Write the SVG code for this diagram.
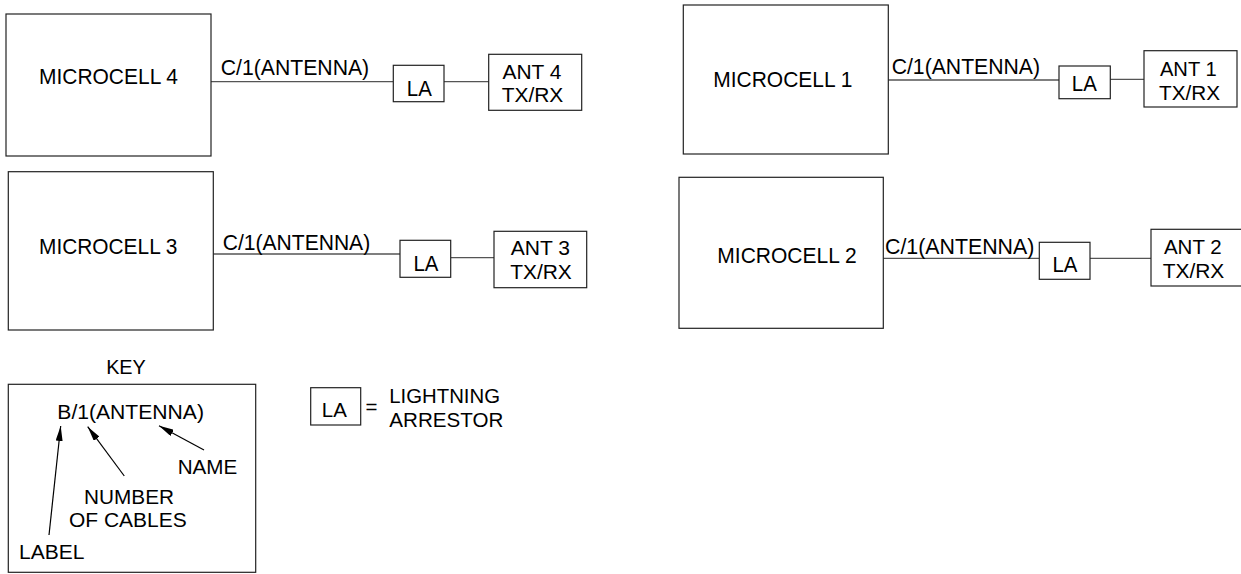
<svg xmlns="http://www.w3.org/2000/svg" width="1241" height="574" viewBox="0 0 1241 574">
<style>
.box{fill:#fff;stroke:#222;stroke-width:1.2}
.wire{stroke:#555;stroke-width:1.3;fill:none}
.t{font-family:"Liberation Sans",Arial,sans-serif;font-size:22px;fill:#000}
.a{font-size:20.5px}
.k{font-family:"Liberation Sans",Arial,sans-serif;font-size:20.5px;fill:#000}
.m{text-anchor:middle}
.ptr{stroke:#000;stroke-width:1.2;fill:none}
</style>
<defs>
<marker id="ah" markerUnits="userSpaceOnUse" markerWidth="15" markerHeight="7" refX="15" refY="3.5" orient="auto">
<path d="M0,0 L15,3.5 L0,7 z" fill="#000"/>
</marker>
</defs>
<rect width="1241" height="574" fill="#fff"/>
<g id="connectors">
<line class="wire" x1="211" y1="81.7" x2="393" y2="81.7"/>
<line class="wire" x1="444" y1="81.7" x2="489" y2="81.7"/>
<line class="wire" x1="213" y1="254" x2="405" y2="254"/>
<line class="wire" x1="451" y1="257.7" x2="494" y2="257.7"/>
<line class="wire" x1="888" y1="80" x2="1059" y2="80"/>
<line class="wire" x1="1110" y1="79.3" x2="1144" y2="79.3"/>
<line class="wire" x1="883" y1="258.3" x2="1039" y2="258.3"/>
<line class="wire" x1="1090" y1="258.3" x2="1151" y2="258.3"/>
<text class="t" x="220.7" y="75" textLength="148.5" lengthAdjust="spacingAndGlyphs">C/1(ANTENNA)</text>
<text class="t" x="222.7" y="250" textLength="147.5" lengthAdjust="spacingAndGlyphs">C/1(ANTENNA)</text>
<text class="t" x="891.7" y="74" textLength="148.3" lengthAdjust="spacingAndGlyphs">C/1(ANTENNA)</text>
<text class="t" x="885" y="254" textLength="149.3" lengthAdjust="spacingAndGlyphs">C/1(ANTENNA)</text>
</g>
<g id="microcell4"><rect class="box" x="6" y="14" width="205" height="142"/><text class="t m" x="108.5" y="84" textLength="139" lengthAdjust="spacingAndGlyphs">MICROCELL 4</text></g>
<g id="la4"><rect class="box" x="393.3" y="65.3" width="50.7" height="36.4"/><text class="t m" x="419.3" y="95.5" textLength="25" lengthAdjust="spacingAndGlyphs">LA</text></g>
<g id="ant4"><rect class="box" x="488.7" y="54.3" width="93" height="56"/><text class="t a m" x="532" y="78.6" textLength="59" lengthAdjust="spacingAndGlyphs">ANT 4</text><text class="t a m" x="532.5" y="102.2" textLength="61.7" lengthAdjust="spacingAndGlyphs">TX/RX</text></g>
<g id="microcell3"><rect class="box" x="8.3" y="171.7" width="205" height="158.3"/><text class="t m" x="108.2" y="254" textLength="138.3" lengthAdjust="spacingAndGlyphs">MICROCELL 3</text></g>
<g id="la3"><rect class="box" x="400" y="240.3" width="50.7" height="37"/><text class="t m" x="426" y="270.7" textLength="25" lengthAdjust="spacingAndGlyphs">LA</text></g>
<g id="ant3"><rect class="box" x="494" y="231.3" width="92.7" height="56.4"/><text class="t a m" x="540.3" y="255.2" textLength="59.3" lengthAdjust="spacingAndGlyphs">ANT 3</text><text class="t a m" x="541" y="278.8" textLength="61.7" lengthAdjust="spacingAndGlyphs">TX/RX</text></g>
<g id="microcell1"><rect class="box" x="683.3" y="5" width="205" height="149"/><text class="t m" x="782.8" y="87" textLength="139" lengthAdjust="spacingAndGlyphs">MICROCELL 1</text></g>
<g id="la1"><rect class="box" x="1059" y="66" width="51.3" height="32.7"/><text class="t m" x="1084.3" y="90.7" textLength="25" lengthAdjust="spacingAndGlyphs">LA</text></g>
<g id="ant1"><rect class="box" x="1144" y="50.7" width="93" height="56.3"/><text class="t a m" x="1188.3" y="76" textLength="56.7" lengthAdjust="spacingAndGlyphs">ANT 1</text><text class="t a m" x="1189.5" y="100" textLength="61" lengthAdjust="spacingAndGlyphs">TX/RX</text></g>
<g id="microcell2"><rect class="box" x="679" y="177.3" width="204.3" height="151"/><text class="t m" x="787" y="263.3" textLength="139.3" lengthAdjust="spacingAndGlyphs">MICROCELL 2</text></g>
<g id="la2"><rect class="box" x="1039.3" y="242.3" width="50.7" height="37"/><text class="t m" x="1065" y="271.7" textLength="25" lengthAdjust="spacingAndGlyphs">LA</text></g>
<g id="ant2"><rect class="box" x="1151" y="229.3" width="92" height="56.7"/><text class="t a m" x="1192.8" y="254" textLength="57.7" lengthAdjust="spacingAndGlyphs">ANT 2</text><text class="t a m" x="1193.5" y="277.7" textLength="61.7" lengthAdjust="spacingAndGlyphs">TX/RX</text></g>
<g id="key">
<text class="k m" x="126" y="374" textLength="39.7" lengthAdjust="spacingAndGlyphs">KEY</text>
<rect class="box" x="8.3" y="384.3" width="247.4" height="188"/>
<text class="k" x="57.3" y="419" textLength="146.7" lengthAdjust="spacingAndGlyphs">B/1(ANTENNA)</text>
<line class="ptr" x1="49" y1="535" x2="60.7" y2="426" marker-end="url(#ah)"/>
<line class="ptr" x1="124.3" y1="476" x2="87.7" y2="426.7" marker-end="url(#ah)"/>
<line class="ptr" x1="204" y1="450" x2="159" y2="425.7" marker-end="url(#ah)"/>
<text class="k" x="177.7" y="474" textLength="59.6" lengthAdjust="spacingAndGlyphs">NAME</text>
<text class="k m" x="129" y="504" textLength="90" lengthAdjust="spacingAndGlyphs">NUMBER</text>
<text class="k m" x="127.8" y="526.7" textLength="117.7" lengthAdjust="spacingAndGlyphs">OF CABLES</text>
<text class="k" x="19" y="559" textLength="65.3" lengthAdjust="spacingAndGlyphs">LABEL</text>
</g>
<g id="legend">
<rect class="box" x="310.7" y="387.7" width="50" height="37.3"/>
<text class="k m" x="334.3" y="417.3" textLength="25" lengthAdjust="spacingAndGlyphs">LA</text>
<text class="k" x="365.5" y="414">=</text>
<text class="k" x="389.3" y="403.3" textLength="110.7" lengthAdjust="spacingAndGlyphs">LIGHTNING</text>
<text class="k" x="389.3" y="427.3" textLength="114" lengthAdjust="spacingAndGlyphs">ARRESTOR</text>
</g>
</svg>
